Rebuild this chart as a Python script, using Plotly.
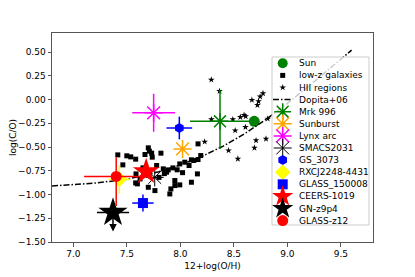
import plotly.graph_objects as go

# ---------------- data ----------------
sun_oh = [8.69]
sun_co = [-0.23]

lowz_oh = [7.415, 7.499, 7.536, 7.582, 7.462, 7.700, 7.669, 7.731, 7.737, 7.818,
           7.778, 7.840, 7.886, 7.623, 7.582, 7.700, 7.762, 7.871, 7.948, 7.948,
           7.994, 7.911, 7.901, 7.994, 8.041, 8.081, 8.125, 8.190, 8.103, 8.165,
           8.103, 8.165, 8.159, 7.710, 7.585, 7.598, 7.650, 7.800, 7.850, 7.930,
           7.970, 8.020]
lowz_co = [-0.583, -0.593, -0.604, -0.628, -0.688, -0.509, -0.579, -0.565, -0.607, -0.565,
           -0.695, -0.730, -0.741, -0.836, -0.878, -0.924, -0.959, -0.765, -0.853, -0.906,
           -0.899, -0.941, -0.994, -0.678, -0.660, -0.695, -0.642, -0.590, -0.871, -0.467,
           -0.635, -0.632, -0.783, -0.544, -0.783, -0.888, -0.720, -0.820, -0.780, -0.720,
           -0.740, -0.770]

hii_oh = [8.289, 8.366, 8.290, 8.490, 8.560, 8.595, 8.610, 8.668, 8.720, 8.730,
          8.745, 8.772, 8.816, 8.512, 8.608, 8.707, 8.800, 8.227, 8.450, 8.537,
          8.692]
hii_co = [0.208, 0.088, -0.210, -0.210, -0.185, -0.163, -0.177, -0.005, -0.060, -0.020,
          0.030, 0.065, -0.203, -0.326, -0.291, -0.431, -0.414, -0.445, -0.537, -0.625,
          -0.509]

dop_oh = [6.8, 7.2, 7.5, 7.8, 8.0, 8.2, 8.4, 8.6, 8.8, 9.0, 9.2, 9.4, 9.6]
dop_co = [-0.91, -0.88, -0.84, -0.76, -0.69, -0.60, -0.49, -0.36, -0.21, -0.04, 0.14, 0.33, 0.52]

obj_names = ["Mrk 996", "Sunburst", "Lynx arc", "SMACS2031", "GS_3073",
             "RXCJ2248-4431", "GLASS_150008", "CEERS-1019", "GN-z9p4", "GLASS-z12"]
obj_oh = [8.37, 8.02, 7.75, 7.76, 7.99, 7.43, 7.65, 7.68, 7.37, 7.40]
obj_co = [-0.23, -0.52, -0.14, -0.82, -0.30, -0.84, -1.09, -0.76, -1.19, -0.81]
obj_oh_err = [0.28, 0.0, 0.20, 0.0, 0.12, 0.10, 0.10, 0.0, 0.15, 0.30]
obj_co_err_hi = [0.33, 0.0, 0.20, 0.0, 0.12, 0.15, 0.09, 0.0, 0.0, 0.20]
obj_co_err_lo = [0.29, 0.0, 0.20, 0.0, 0.12, 0.15, 0.09, 0.0, 0.0, 0.31]
gn_upper_limit_len = 0.20

x_ticks = [7.0, 7.5, 8.0, 8.5, 9.0, 9.5]
y_ticks = [-1.5, -1.25, -1.0, -0.75, -0.5, -0.25, 0.0, 0.25, 0.5]

# ---------------- styles ----------------
obj_style = {
    "Mrk 996":       dict(symbol="asterisk-open", color="#008000", size=14, lw=1.5),
    "Sunburst":      dict(symbol="asterisk-open", color="#FFA500", size=15, lw=1.5),
    "Lynx arc":      dict(symbol="asterisk-open", color="#FF00FF", size=15, lw=1.5),
    "SMACS2031":     dict(symbol="asterisk-open", color="#000000", size=15, lw=1.0),
    "GS_3073":       dict(symbol="hexagon", color="#0000FF", size=10, lw=0),
    "RXCJ2248-4431": dict(symbol="diamond", color="#FFFF00", size=12, lw=0),
    "GLASS_150008":  dict(symbol="square", color="#0000FF", size=10, lw=0),
    "CEERS-1019":    dict(symbol="star", color="#FF0000", size=20, lw=0),
    "GN-z9p4":       dict(symbol="star", color="#000000", size=22, lw=0),
    "GLASS-z12":     dict(symbol="circle", color="#FF0000", size=11, lw=0),
}

FONT = "DejaVu Sans"
fig = go.Figure()

fig.add_trace(go.Scatter(x=sun_oh, y=sun_co, mode="markers", showlegend=False,
                         marker=dict(symbol="circle", size=11, color="#008000")))
fig.add_trace(go.Scatter(x=lowz_oh, y=lowz_co, mode="markers", showlegend=False,
                         marker=dict(symbol="square", size=5, color="black")))
fig.add_trace(go.Scatter(x=hii_oh, y=hii_co, mode="markers", showlegend=False,
                         marker=dict(symbol="star", size=5, color="black")))
fig.add_trace(go.Scatter(x=dop_oh, y=dop_co, mode="lines", showlegend=False,
                         line=dict(color="black", width=1.5, dash="6px,2px,1.5px,2px")))

for i, name in enumerate(obj_names):
    st = obj_style[name]
    ex = dict(type="data", array=[obj_oh_err[i]], color=st["color"], thickness=1.5,
              width=0, visible=obj_oh_err[i] > 0)
    ey = dict(type="data", symmetric=False, array=[obj_co_err_hi[i]],
              arrayminus=[obj_co_err_lo[i]], color=st["color"], thickness=1.5,
              width=0, visible=(obj_co_err_hi[i] + obj_co_err_lo[i]) > 0)
    fig.add_trace(go.Scatter(
        x=[obj_oh[i]], y=[obj_co[i]], mode="markers", showlegend=False,
        error_x=ex, error_y=ey,
        marker=dict(symbol=st["symbol"], size=st["size"], color=st["color"],
                    line=dict(color=st["color"], width=st["lw"]))))

# upper-limit arrow for GN-z9p4
gi = obj_names.index("GN-z9p4")
fig.add_annotation(x=obj_oh[gi], y=obj_co[gi] - gn_upper_limit_len,
                   ax=obj_oh[gi], ay=obj_co[gi], xref="x", yref="y",
                   axref="x", ayref="y", showarrow=True, arrowhead=2,
                   arrowsize=1, arrowwidth=1.5, arrowcolor="black", text="")

# ---------------- layout geometry (screen pixels; page has an 8px body offset) ----------------
OFF = 8
L, R, T, B = 52, 373, 33, 242          # plot area on screen
W, H = R - L, B - T
FIG_W, FIG_H = 415 - OFF, 277 - OFF

def fx(px):
    return (px - L) / W
def fy(py):
    return (B - py) / H

# ---------------- custom legend (overlay axes in plot-area fractions) ----------------
bx0, bx1, by0, by1 = fx(272), fx(369), fy(225), fy(57)
fig.add_trace(go.Scatter(x=[bx0, bx1, bx1, bx0, bx0], y=[by0, by0, by1, by1, by0],
                         xaxis="x2", yaxis="y2", mode="lines", fill="toself",
                         fillcolor="rgba(255,255,255,0.8)", showlegend=False,
                         line=dict(color="#cccccc", width=1), hoverinfo="skip"))

legend_labels = ["Sun", "low-z galaxies", "HII regions", "Dopita+06"] + obj_names
legend_style = [dict(symbol="circle", color="#008000", size=10, lw=0),
                dict(symbol="square", color="#000000", size=5, lw=0),
                dict(symbol="star", color="#000000", size=5, lw=0),
                None] + [obj_style[n] for n in obj_names]
row0, step = 63.3, 12.1
sym_x, txt_x = fx(282.7), fx(297)
for i, (lab, st) in enumerate(zip(legend_labels, legend_style)):
    yy = fy(row0 + i * step)
    if st is None:
        fig.add_trace(go.Scatter(x=[fx(273), fx(292)], y=[yy, yy], xaxis="x2", yaxis="y2",
                                 mode="lines", showlegend=False, hoverinfo="skip",
                                 line=dict(color="black", width=1.5, dash="6px,2px,1.5px,2px")))
    else:
        sz = min(st["size"], 16)
        fig.add_trace(go.Scatter(x=[sym_x], y=[yy], xaxis="x2", yaxis="y2", mode="markers",
                                 showlegend=False, hoverinfo="skip",
                                 marker=dict(symbol=st["symbol"], size=sz, color=st["color"],
                                             line=dict(color=st["color"], width=st["lw"]))))
    fig.add_annotation(x=txt_x, y=yy, xref="paper", yref="paper", text=lab,
                       showarrow=False, xanchor="left", yanchor="middle",
                       font=dict(family=FONT, size=9, color="black"))

axis_common = dict(showline=True, linecolor="#555555", linewidth=1, mirror=True,
                   ticks="outside", ticklen=3.5, tickwidth=1, tickcolor="#555555",
                   showgrid=False, zeroline=False,
                   tickfont=dict(family=FONT, size=9, color="black"))

fig.update_layout(
    width=FIG_W, height=FIG_H,
    margin=dict(l=L - OFF, r=FIG_W - (R - OFF), t=T - OFF, b=FIG_H - (B - OFF),
                autoexpand=False),
    paper_bgcolor="white", plot_bgcolor="white",
    showlegend=False,
    xaxis=dict(range=[6.8, 9.8], tickvals=x_ticks, tickformat=".1f",
               title=dict(text="12+log(O/H)", standoff=4,
                          font=dict(family=FONT, size=9, color="black")),
               **axis_common),
    yaxis=dict(range=[-1.5, 0.7], tickvals=y_ticks, tickformat=".2f",
               title=dict(text="log(C/O)", standoff=6,
                          font=dict(family=FONT, size=9, color="black")),
               **axis_common),
    xaxis2=dict(overlaying="x", range=[0, 1], visible=False, fixedrange=True),
    yaxis2=dict(overlaying="y", range=[0, 1], visible=False, fixedrange=True),
    font=dict(family=FONT, size=9, color="black"),
)

fig.write_html("out.html")
